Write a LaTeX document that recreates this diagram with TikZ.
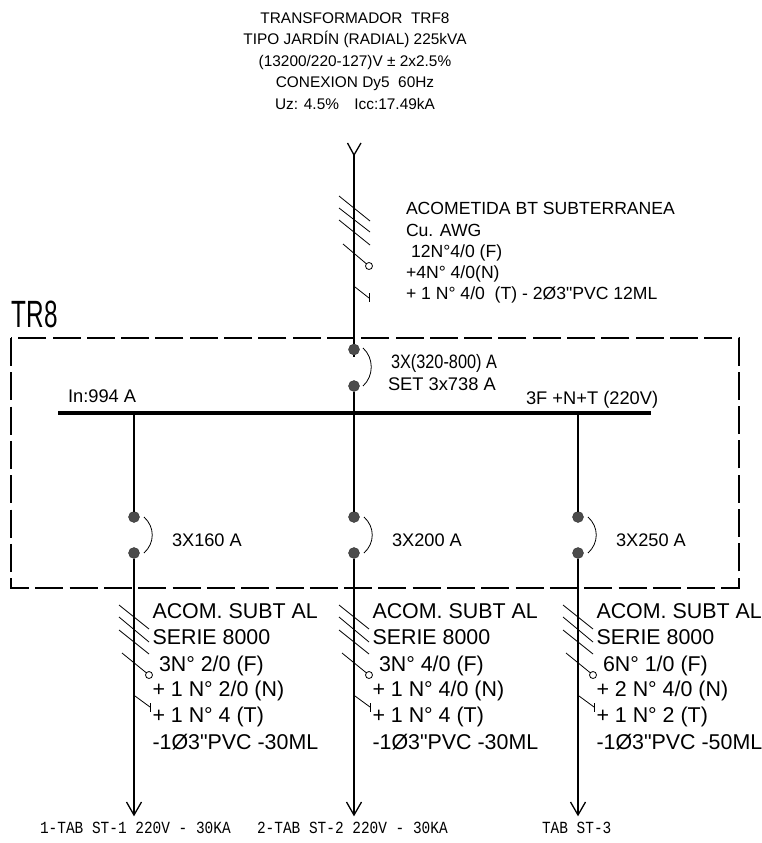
\documentclass[tikz,border=0pt]{standalone}
\usepackage{fontspec}
\setmainfont{Liberation Sans}[Ligatures=TeXOff]
\newfontfamily\cadfont{Liberation Mono}
\tikzstyle{breaker}=[circle, fill=black!70, draw=black!80, inner sep=0, outer sep=0, minimum size=11pt]
\tikzstyle{note}=[anchor=west, inner sep=0, outer sep=0, text depth=0pt]
\tikzstyle{smalltext}=[note, font=\fontsize{17.6}{19}\selectfont]
\tikzstyle{acomtext}=[note, font=\fontsize{21.4}{23}\selectfont]
\tikzstyle{cadtext}=[note, xscale=0.85, font=\cadfont\fontsize{17}{19}\selectfont]
\tikzstyle{panelbox}=[draw, line width=1.9pt, dash pattern=on 28pt off 6.3pt]
\tikzstyle{feeder}=[line width=2.3pt]
\tikzstyle{wire}=[line width=1.5pt]
\tikzstyle{hatch}=[line width=0.8pt]

\begin{document}
\begin{tikzpicture}[x=1pt, y=-1pt]
    \useasboundingbox (0, 0) rectangle (762, 843);

    % transformer data
    \node[align=center, inner sep=0, font=\fontsize{15.4}{21.5}\selectfont] (TRF) at (355, 61)
        {TRANSFORMADOR\ \ TRF8\\TIPO JARDÍN (RADIAL) 225kVA\\(13200/220-127)V ± 2x2.5\%\\CONEXION Dy5\ \ 60Hz\\Uz: 4.5\%\quad Icc:17.49kA};

    % panel
    \path[panelbox] (11, 338) rectangle (739, 588);
    \node[note, font=\fontsize{38}{40}\selectfont, xscale=0.64] (TR8) at (12, 314) {TR8};

    % main breaker and bus
    \coordinate (Top) at (354, 155);
    \coordinate (Stub) at (354, 357);
    \coordinate (BusL) at (58, 413);
    \coordinate (BusR) at (651, 413);
    \coordinate (BusM) at (354, 420);
    \node[breaker] (M1) at (354, 349.5) {};
    \node[breaker] (M2) at (354, 386) {};
    \draw[line width=3.4pt] (BusL) -- (BusR);
    \draw[feeder] (Top) -- (M1);
    \draw[wire] (M1) -- (Stub);
    \draw[wire] (M2) -- (BusM);
    \draw[line width=1.3pt] (347.5, 143) -- (Top) -- (361, 143);
    \draw[line width=0.8pt] (363, 348) .. controls +(11, 10) and +(11, -10) .. (363, 386);

    % incoming cable marks
    \draw[hatch] (339, 196) -- (370, 221);
    \draw[hatch] (339, 208) -- (370, 232);
    \draw[hatch] (339, 220) -- (370, 245);
    \node[circle, draw, line width=0.8pt, inner sep=0, minimum size=7pt] (NT) at (369, 266) {};
    \draw[hatch] (343, 244) -- (NT);
    \draw[hatch] (355, 287) -- (369, 298);
    \draw[hatch] (369, 293) -- (369, 302);

    \node[smalltext] (AC1) at (406, 208) {ACOMETIDA BT SUBTERRANEA};
    \node[smalltext] (AC2) at (406, 230) {Cu. AWG};
    \node[smalltext] (AC3) at (411, 251) {12N°4/0 (F)};
    \node[smalltext] (AC4) at (406, 272) {+4N° 4/0(N)};
    \node[smalltext] (AC5) at (406, 293) {+ 1 N° 4/0\ \ (T) - 2Ø3"PVC 12ML};
    \node[smalltext, xscale=0.84, font=\fontsize{19.4}{21}\selectfont] (SET1) at (391, 361) {3X(320-800) A};
    \node[smalltext, font=\fontsize{18.3}{20}\selectfont] (SET2) at (388, 384) {SET 3x738 A};
    \node[smalltext, font=\fontsize{18.3}{20}\selectfont] (IN) at (68, 396) {In:994 A};
    \node[smalltext, font=\fontsize{18.3}{20}\selectfont] (VOLT) at (526, 398) {3F +N+T (220V)};

    % feeders
    \foreach \i/\x/\amp/\fase/\neutro/\tierra/\ml in {1/134/3X160 A/3N° 2\slash 0 (F)/+ 1 N° 2\slash 0 (N)/+ 1 N° 4 (T)/30,
                                                        2/354/3X200 A/3N° 4\slash 0 (F)/+ 1 N° 4\slash 0 (N)/+ 1 N° 4 (T)/30,
                                                        3/578/3X250 A/6N° 1\slash 0 (F)/+ 2 N° 4\slash 0 (N)/+ 1 N° 2 (T)/50} {
        \coordinate (P\i) at (\x, 413);
        \coordinate (C\i) at (\x, 580);
        \coordinate (E\i) at (\x, 815);
        \node[breaker] (B\i) at (\x, 517) {};
        \node[breaker] (D\i) at (\x, 553) {};
        \draw[wire] (P\i) -- (B\i);
        \draw[wire] (D\i) -- (C\i);
        \draw[feeder] (C\i) -- (E\i);
        \draw[line width=1.3pt] (\x-7.5, 802) -- (E\i) -- (\x+7.5, 802);
        \draw[line width=0.8pt] (\x+10, 517) .. controls +(11, 10) and +(11, -10) .. (\x+10, 553);
        \draw[hatch] (\x-15, 605) -- (\x+15, 629);
        \draw[hatch] (\x-15, 617) -- (\x+15, 642);
        \draw[hatch] (\x-15, 630) -- (\x+15, 654);
        \node[circle, draw, line width=0.8pt, inner sep=0, minimum size=7pt] (N\i) at (\x+15, 675) {};
        \draw[hatch] (\x-12, 653) -- (N\i);
        \draw[hatch] (\x+1, 696) -- (\x+16, 707);
        \draw[hatch] (\x+16, 703) -- (\x+16, 712);
        \node[smalltext, font=\fontsize{18.2}{20}\selectfont] (A\i) at (\x+38, 540) {\amp};
        \node[acomtext] (L\i a) at (\x+18.5, 611) {ACOM. SUBT AL};
        \node[acomtext] (L\i b) at (\x+18.5, 637) {SERIE 8000};
        \node[acomtext] (L\i c) at (\x+25, 664) {\fase};
        \node[acomtext] (L\i d) at (\x+18.5, 689) {\neutro};
        \node[acomtext] (L\i e) at (\x+18.5, 715) {\tierra};
        \node[acomtext] (L\i f) at (\x+18.5, 742) {-1Ø3"PVC -\ml ML};
    }

    % load names
    \node[cadtext] (T1) at (40, 828) {1-TAB ST-1 220V - 30KA};
    \node[cadtext] (T2) at (257, 828) {2-TAB ST-2 220V - 30KA};
    \node[cadtext] (T3) at (542, 828) {TAB ST-3};
\end{tikzpicture}
\end{document}
